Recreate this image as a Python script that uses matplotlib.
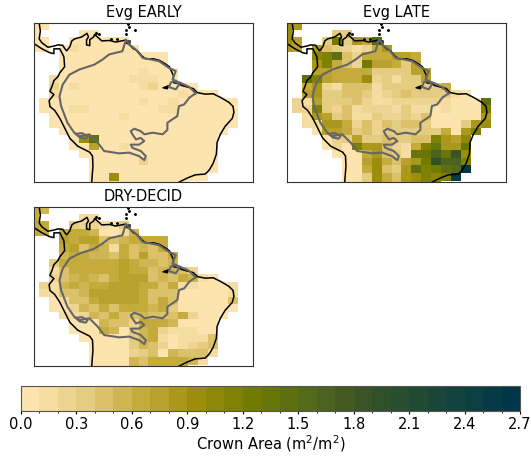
import numpy as np
import matplotlib
matplotlib.use('Agg')
import matplotlib.pyplot as plt
from matplotlib.colors import LinearSegmentedColormap, ListedColormap, BoundaryNorm

_ = -1  # no data

titles = ['Evg EARLY', 'Evg LATE', 'DRY-DECID']
cbar_label = 'Crown Area (m$^2$/m$^2$)'
cbar_ticks = [0.0, 0.3, 0.6, 0.9, 1.2, 1.5, 1.8, 2.1, 2.4, 2.7]

# first land column of each grid row, north to south
land_start = [0, 0, 0, 0, 3, 3, 3, 2, 2, 2, 1, 1, 2, 2, 3, 4, 4, 5, 6, 6, 6, 6]

# crown area bin (0.1 m2/m2 wide) of each land cell
early_rows = [
    [0, 0],
    [0, _, _, _, _, 0, 0],
    [0, 0, _, _, 0, 0, 0, 0, 0, 0],
    [0, 0, _, 0, 1, 0, 0, 0, 0, 0, 0],
    [0, 0, 0, 0, 0, 0, 0, 0, 0, 0, 0],
    [0, 0, 0, 0, 0, 0, 0, 0, 0, 0, 0],
    [0, 0, 0, 0, 0, 0, 0, 0, 1, 0, 0, 0],
    [1, 0, 0, 0, 0, 0, 0, 0, 1, 1, 1, 0, 0],
    [2, 0, 1, 0, 0, 0, 0, 0, 0, 1, 2, 0, 0, 0, 0],
    [1, 0, 0, 0, 0, 0, 0, 0, 0, 0, 0, 0, 0, 1, 0, 0, 0],
    [0, 0, 0, 0, 0, 0, 0, 0, 0, 0, 1, 0, 0, 1, 0, 0, 0, 0, 0, 0],
    [0, 0, 0, 1, 1, 0, 0, 0, 0, 0, 0, 0, 1, 1, 0, 0, 0, 0, 0, 0],
    [0, 0, 0, 0, 0, 0, 0, 1, 0, 0, 0, 0, 0, 0, 0, 0, 0, 0, 0],
    [0, 0, 0, 0, 0, 0, 0, 0, 0, 0, 0, 0, 0, 0, 0, 0, 0, 0, 0],
    [0, 0, 0, 0, 0, 0, 0, 0, 0, 0, 0, 0, 0, 0, 0, 0, 0],
    [0, 9, 14, 0, 0, 0, 0, 0, 0, 0, 0, 0, 0, 0, 0],
    [0, 0, 7, 0, 0, 1, 0, 0, 0, 0, 0, 0, 0, 0, 0],
    [0, 0, 0, 0, 0, 0, 0, 0, 0, 0, 0, 0, 0, 0],
    [0, 0, 0, 0, 0, 2, 0, 0, 0, 0, 0, 0, 0],
    [0, 0, 0, 0, 0, 0, 0, 0, 0, 0, 0, 0, 0],
    [0, 0, 9, 0, 0, 0, 0, 0, 0, 0, 0, 0],
    [0, 0, 0, 0, 0, 0, 0, 0, 0, 0],
]
late_rows = [
    [9, 8],
    [9, _, _, _, _, 3, 3],
    [9, 7, _, _, 3, 12, 3, 8, 6, 15],
    [8, 7, _, 8, 4, 3, 2, 1, 2, 6, 8],
    [10, 11, 14, 4, 2, 6, 6, 6, 7, 7, 6],
    [8, 11, 6, 4, 2, 12, 7, 7, 6, 3, 7],
    [7, 7, 6, 6, 6, 6, 3, 3, 3, 3, 7, 7],
    [14, 11, 7, 6, 6, 6, 9, 2, 3, 1, 3, 3, 7],
    [6, 8, 2, 1, 4, 4, 4, 1, 3, 3, 3, 3, 3, 3, 6],
    [7, 8, 3, 3, 4, 4, 3, 1, 2, 3, 4, 3, 3, 3, 3, 1, 0],
    [2, 1, 7, 3, 3, 3, 4, 2, 1, 1, 2, 2, 2, 2, 2, 1, 0, 0, 0, 14],
    [2, 2, 11, 3, 2, 4, 1, 2, 2, 2, 1, 3, 1, 1, 0, 1, 0, 0, 0, 11],
    [1, 8, 7, 3, 4, 1, 1, 3, 2, 2, 3, 2, 4, 0, 0, 0, 0, 0, 8],
    [1, 1, 8, 8, 6, 2, 4, 2, 4, 3, 4, 4, 3, 0, 0, 0, 3, 8, 9],
    [0, 7, 7, 6, 3, 4, 2, 3, 3, 3, 3, 3, 3, 6, 0, 8, 11],
    [0, 2, 3, 7, 3, 3, 4, 3, 3, 4, 4, 11, 8, 7, 10],
    [0, 2, 0, 11, 8, 8, 4, 2, 1, 6, 11, 13, 8, 8, 13],
    [0, 0, 0, 6, 8, 4, 3, 1, 13, 13, 16, 13, 18, 9],
    [0, 0, 7, 9, 6, 4, 7, 8, 12, 19, 16, 16, 11],
    [0, 0, 6, 9, 4, 3, 8, 14, 11, 12, 14, 15, 26],
    [0, 0, 3, 9, 6, 4, 8, 9, 11, 10, 11, 25],
    [0, 0, 3, 9, 6, 4, 8, 9, 11, 10],
]
dry_rows = [
    [6, 5],
    [6, _, _, _, _, 1, 1],
    [6, 6, _, _, 3, 2, 2, 1, 0, 3],
    [6, 6, _, 6, 6, 6, 5, 0, 0, 1, 5],
    [7, 6, 7, 7, 4, 4, 5, 6, 6, 6, 6],
    [6, 7, 4, 6, 5, 1, 6, 4, 5, 4, 6],
    [5, 6, 6, 5, 5, 4, 6, 4, 7, 4, 4, 6],
    [3, 6, 6, 6, 6, 6, 6, 7, 6, 5, 5, 4, 5],
    [1, 4, 6, 6, 6, 6, 6, 7, 6, 6, 4, 5, 5, 4, 2],
    [2, 4, 5, 6, 5, 4, 6, 7, 7, 7, 4, 5, 4, 6, 5, 1, 0],
    [2, 1, 5, 6, 5, 6, 6, 7, 7, 7, 6, 6, 4, 6, 1, 1, 0, 0, 0, 1],
    [1, 1, 4, 4, 5, 7, 7, 7, 7, 7, 6, 4, 4, 4, 0, 0, 0, 0, 0, 1],
    [0, 1, 4, 4, 6, 7, 7, 7, 7, 6, 4, 6, 4, 0, 0, 0, 0, 0, 4],
    [0, 0, 2, 5, 4, 6, 4, 6, 6, 6, 5, 6, 3, 0, 0, 0, 0, 0, 0],
    [1, 1, 2, 5, 4, 6, 4, 4, 5, 4, 4, 4, 6, 2, 0, 0, 0],
    [0, 0, 0, 5, 4, 4, 2, 6, 6, 6, 5, 0, 0, 0, 0],
    [0, 0, 0, 6, 5, 0, 3, 5, 6, 2, 1, 1, 1, 0, 0],
    [0, 0, 0, 0, 0, 3, 5, 6, 1, 0, 1, 1, 1, 4],
    [0, 0, 0, 0, 3, 5, 4, 2, 0, 1, 2, 3, 4],
    [0, 0, 0, 0, 2, 3, 4, 0, 5, 4, 4, 4, 1],
    [0, 0, 0, 0, 5, 4, 6, 6, 6, 6, 5, 1],
    [0, 0, 0, 0, 5, 4, 6, 6, 6, 6],
]

# coast and basin outline, lon/lat
panama_lon = [-83.7, -83.4, -83.7, -83.0, -81.5, -80.0, -79.0, -77.8, -77.3, -76.8, -76.0, -75.5, -74.8, -73.0, -71.7,
              -71.3, -71.8, -71.8, -71.0, -71.0, -70.0, -69.8, -68.5, -68.0, -66.0, -64.5, -62.0, -61.8, -61.0, -60.0,
              -59.0, -58.0, -57.0, -55.0, -53.5, -52.0, -51.0, -50.0, -50.0, -48.5, -48.0, -45.0, -44.0, -42.0, -40.0,
              -38.0, -36.0, -35.0, -34.8, -35.2, -37.0, -38.2, -39.0, -39.2, -40.0, -41.0, -42.0, -44.5, -46.5, -48.5]
panama_lat = [15.0, 13.0, 11.0, 10.0, 8.9, 9.2, 9.5, 9.4, 8.6, 8.0, 9.0, 10.5, 11.0, 11.5, 12.4,
              11.5, 10.8, 9.5, 9.3, 10.8, 11.5, 12.1, 11.0, 10.5, 10.6, 10.2, 10.7, 10.0, 9.5, 8.5,
              8.0, 6.8, 6.0, 6.0, 5.6, 4.7, 4.0, 1.8, 0.0, -0.3, -0.7, -1.5, -2.5, -2.9, -2.8,
              -3.8, -5.0, -6.0, -7.5, -9.0, -11.0, -13.0, -15.0, -18.0, -20.3, -22.0, -23.0, -23.2, -24.0, -25.0]
pacific_lon = [-85.0, -83.0, -81.0, -80.0, -80.0, -78.5, -78.0, -77.5, -77.3, -78.5, -79.0, -80.0, -80.5, -81.0,
               -80.0, -81.2, -81.0, -79.8, -78.5, -77.0, -76.0, -74.0, -71.0, -70.3, -70.2, -70.5]
pacific_lat = [9.8, 8.5, 7.5, 7.3, 8.5, 8.5, 7.5, 6.5, 4.0, 2.5, 1.5, 0.5, -1.0, -2.2,
               -3.0, -4.5, -6.0, -7.0, -9.0, -12.0, -14.0, -16.0, -17.5, -18.5, -21.0, -25.0]
amazon_lon = [-44.4, -46.0, -48.1, -49.4, -50.2, -49.4, -51.1, -53.6, -56.5, -57.7, -59.4, -61.1, -61.9, -62.8, -66.1,
              -67.8, -69.9, -73.6, -76.1, -77.8, -78.6, -78.2, -76.6, -74.9, -73.6, -71.1, -69.0, -67.4, -63.6, -61.1,
              -58.6, -57.3, -56.9, -58.2, -60.3, -60.7, -58.6, -57.3, -58.2, -59.4, -60.3, -60.7, -59.8, -58.2, -57.3,
              -55.2, -52.7, -51.5, -51.5, -49.0, -48.6, -47.3, -46.0, -44.4]
amazon_lat = [-2.7, -1.1, -0.1, 0.4, 0.8, 2.9, 3.7, 5.4, 6.0, 6.2, 8.3, 9.6, 10.8, 7.9, 7.1,
              5.8, 4.5, 3.3, 2.0, -0.5, -3.4, -5.9, -10.1, -12.6, -13.5, -13.0, -15.1, -17.2, -17.8, -17.6,
              -18.5, -19.5, -18.5, -17.2, -16.4, -15.6, -15.6, -14.7, -13.9, -14.3, -13.0, -12.2, -11.6, -12.2, -13.0,
              -12.6, -13.0, -11.9, -10.1, -8.4, -5.9, -5.5, -3.8, -2.7]
mouth_lon = [-49.4, -50.6, -51.1, -49.4, -48.6, -49.4]
mouth_lat = [0.4, 0.1, -1.1, -1.7, -0.5, 0.4]
marajo_lon = [-52.7, -51.1, -51.5, -52.7]
marajo_lat = [-1.3, -0.7, -1.6, -1.3]
titicaca_lon = [-74.5, -73.0, -71.5, -72.0, -73.5, -74.5]
titicaca_lat = [-12.9, -12.7, -13.4, -14.1, -13.8, -12.9]
trinidad_lon = [-62.0, -60.9, -60.9, -62.0, -62.0]
trinidad_lat = [10.8, 10.8, 10.0, 10.0, 10.8]
islands_lon = [-61.5, -61.2, -61.8, -59.75, -61.9, -69.4, -68.6, -65.7, -64.2]
islands_lat = [14.7, 14.1, 13.3, 13.2, 12.2, 12.5, 12.2, 11.0, 11.0]

cmap_colors = [(0.0, '#fde3ae'), (3 / 26, '#e4cc80'), (6 / 26, '#c4ab3c'), (9 / 26, '#9c8e0c'), (12 / 26, '#707b00'),
               (15 / 26, '#55691b'), (18 / 26, '#3a5426'), (21 / 26, '#1f4a34'), (24 / 26, '#0c3f44'), (1.0, '#003648')]

W, H = 531, 457


def px_axes(fig, left, top, right, bottom):
    return fig.add_axes([left / W, 1 - bottom / H, (right - left) / W, (bottom - top) / H])


def to_grid(rows):
    grid = np.full((len(rows), 23), -1.0)
    for i, row in enumerate(rows):
        start = land_start[i]
        grid[i, start:start + len(row)] = row
    # bin index to bin centre, m2/m2
    return np.ma.masked_less((grid + 0.5) / 10, 0)


def draw_map(ax, rows, title, lon_edges, lat_edges, cmap, norm):
    mesh = ax.pcolormesh(lon_edges, lat_edges, to_grid(rows), cmap=cmap, norm=norm)
    ax.plot(panama_lon, panama_lat, color='black', lw=1.1)
    ax.plot(pacific_lon, pacific_lat, color='black', lw=1.1)
    ax.fill(marajo_lon, marajo_lat, color='black', lw=0.8)
    ax.fill(trinidad_lon, trinidad_lat, color='#333333', lw=0.5)
    ax.plot(islands_lon, islands_lat, ls='none', marker='o', ms=1.1, color='black')
    ax.plot(amazon_lon, amazon_lat, color='#666666', lw=1.5)
    ax.plot(mouth_lon, mouth_lat, color='#666666', lw=1.5)
    ax.plot(titicaca_lon, titicaca_lat, color='#666666', lw=1.5)
    ax.set_xlim(-85, -30)
    ax.set_ylim(-25, 15)
    ax.set_xticks([])
    ax.set_yticks([])
    ax.set_title(title, fontsize=10.5, pad=4)
    for spine in ax.spines.values():
        spine.set_color('#333333')
        spine.set_linewidth(0.8)
    return mesh


def main():
    fig = plt.figure(figsize=(W / 100, H / 100), dpi=100)

    levels = np.arange(28) / 10
    ramp = LinearSegmentedColormap.from_list('crown', cmap_colors)
    cmap = ListedColormap(ramp(np.linspace(0, 1, 27)))
    norm = BoundaryNorm(levels, 27)

    # 2.5 x 1.89 degree model grid
    lon_edges = -86.25 + 2.5 * np.arange(24)
    lat_edges = 180 / 95 * np.arange(8, -15, -1)

    ax0 = px_axes(fig, 34, 23, 253, 182)
    ax1 = px_axes(fig, 287, 23, 506, 182)
    ax2 = px_axes(fig, 34, 207, 253, 366)
    mesh = draw_map(ax0, early_rows, titles[0], lon_edges, lat_edges, cmap, norm)
    draw_map(ax1, late_rows, titles[1], lon_edges, lat_edges, cmap, norm)
    draw_map(ax2, dry_rows, titles[2], lon_edges, lat_edges, cmap, norm)

    cax = px_axes(fig, 21, 386, 520, 411)
    cb = fig.colorbar(mesh, cax=cax, orientation='horizontal', drawedges=False)
    cb.set_ticks(cbar_ticks)
    cb.set_ticklabels(['%.1f' % t for t in cbar_ticks])
    cax.set_xticks(levels, minor=True)
    cax.tick_params(axis='x', which='minor', length=1.5, width=0.6)
    cax.tick_params(axis='x', which='major', labelsize=10.5, length=2.5, width=0.8, pad=2)
    cb.outline.set_edgecolor('#555555')
    cb.set_label(cbar_label, fontsize=10.5, labelpad=1)

    fig.savefig('out.png', dpi=100)
    plt.close(fig)


if __name__ == '__main__':
    main()
